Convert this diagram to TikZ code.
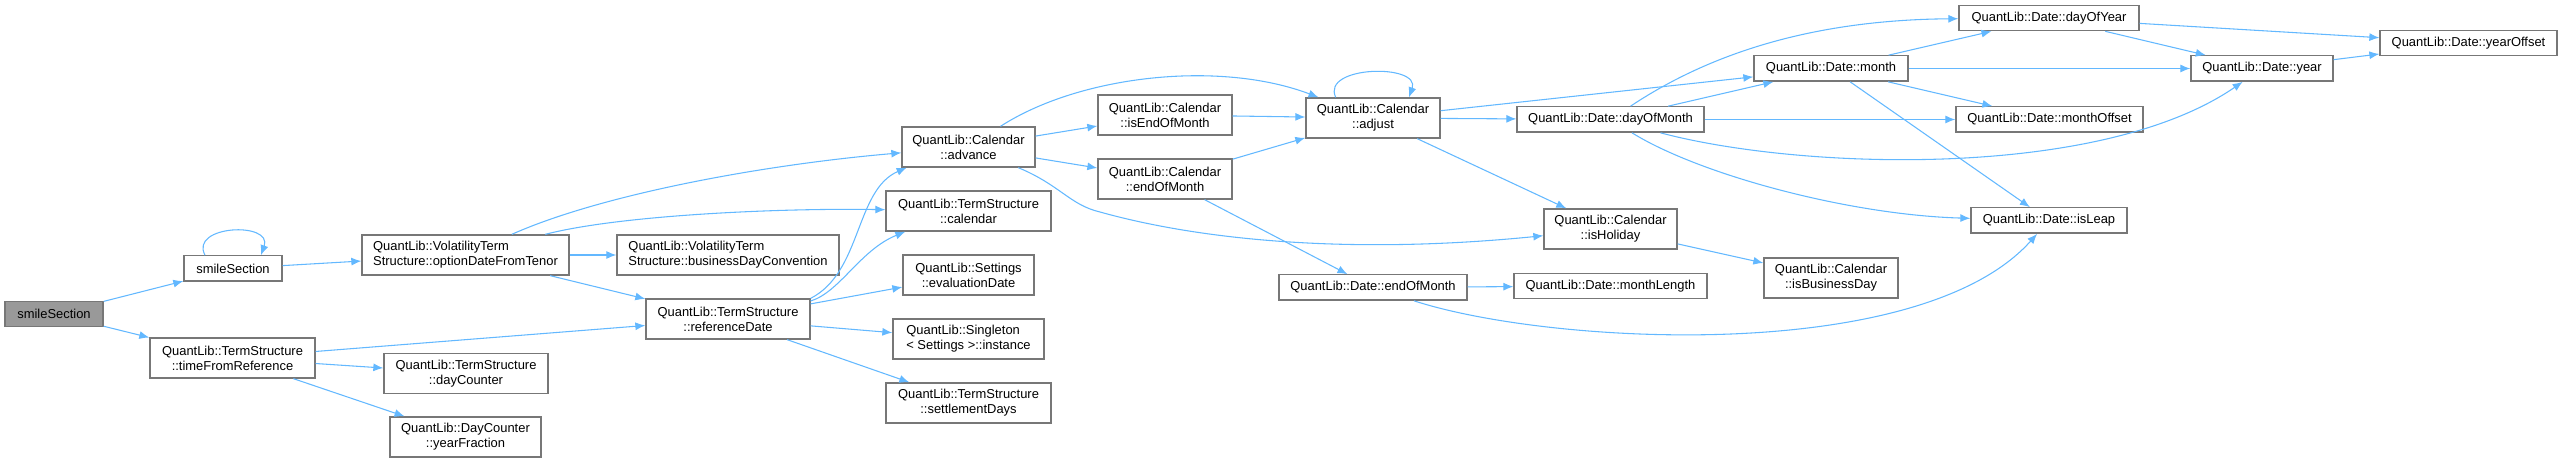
\documentclass[tikz,border=0pt]{standalone}
\usepackage{fontspec}
\setmainfont{Liberation Sans}
\usetikzlibrary{arrows.meta}

\definecolor{edgeblue}{HTML}{63B8FF}
\definecolor{nodeline}{HTML}{777777}
\definecolor{rootfill}{HTML}{999999}

\begin{document}
\begin{tikzpicture}[x=0.75pt, y=-0.75pt, font=\fontsize{9.7}{11.25}\selectfont,
  wd/.style={minimum width=#1*0.75pt}]
\tikzstyle{fn}=[draw=nodeline, fill=white, line width=1pt, inner sep=1pt, align=center, minimum height=19pt]
\tikzstyle{fntwo}=[fn, minimum height=30pt]
\tikzstyle{call}=[draw=edgeblue, line width=0.8pt, -{Latex[length=7.5pt,width=6pt]}]
\useasboundingbox (0,0) rectangle (2563,463);

% callers and first level
\node[fn, wd=98, fill=rootfill] (root) at (54,314) {smileSection};
\node[fn, wd=98] (smile) at (233,268.5) {smileSection};
\node[fntwo, wd=207, align=left] (opt) at (465.5,255) {QuantLib::VolatilityTerm\\Structure::optionDateFromTenor};
\node[fntwo, wd=165] (tfr) at (232.5,358) {QuantLib::TermStructure\\::timeFromReference};
\node[fntwo, wd=164] (dc) at (466,373.5) {QuantLib::TermStructure\\::dayCounter};
\node[fntwo, wd=151] (yf) at (465.5,437) {QuantLib::DayCounter\\::yearFraction};
\node[fntwo, wd=222, align=left] (bdc) at (728,255) {QuantLib::VolatilityTerm\\Structure::businessDayConvention};
\node[fntwo, wd=164] (ref) at (728,319) {QuantLib::TermStructure\\::referenceDate};

% term structure and calendar
\node[fntwo, wd=133] (adv) at (968.5,147) {QuantLib::Calendar\\::advance};
\node[fntwo, wd=165] (cal) at (968.5,211) {QuantLib::TermStructure\\::calendar};
\node[fntwo, wd=131] (evd) at (968.5,275) {QuantLib::Settings\\::evaluationDate};
\node[fntwo, wd=151, align=left] (inst) at (968.5,339) {QuantLib::Singleton\\< Settings >::instance};
\node[fntwo, wd=165] (sdays) at (968.5,403) {QuantLib::TermStructure\\::settlementDays};
\node[fntwo, wd=134] (ieom) at (1165,115) {QuantLib::Calendar\\::isEndOfMonth};
\node[fntwo, wd=134] (ceom) at (1165,179) {QuantLib::Calendar\\::endOfMonth};
\node[fntwo, wd=134] (adj) at (1373,118) {QuantLib::Calendar\\::adjust};
\node[fn, wd=188] (deom) at (1373,287.5) {QuantLib::Date::endOfMonth};

% date functions
\node[fn, wd=187] (dom) at (1610.5,119.5) {QuantLib::Date::dayOfMonth};
\node[fntwo, wd=133] (hol) at (1610.5,229) {QuantLib::Calendar\\::isHoliday};
\node[fn, wd=193] (mlen) at (1610.5,286) {QuantLib::Date::monthLength};
\node[fn, wd=154] (mon) at (1831,68.5) {QuantLib::Date::month};
\node[fntwo, wd=134] (bday) at (1831,278) {QuantLib::Calendar\\::isBusinessDay};
\node[fn, wd=180] (doy) at (2049,18) {QuantLib::Date::dayOfYear};
\node[fn, wd=187] (moff) at (2049.5,119.5) {QuantLib::Date::monthOffset};
\node[fn, wd=156] (leap) at (2049,220.5) {QuantLib::Date::isLeap};
\node[fn, wd=142] (yr) at (2262,68.5) {QuantLib::Date::year};
\node[fn, wd=177] (yoff) at (2468.5,43) {QuantLib::Date::yearOffset};

% calls
\draw[call] (root) -- (smile);
\draw[call] (root) -- (tfr);
\draw[call] ([xshift=-21pt]smile.north) .. controls +(-16,-30) and +(12,-34) .. ([xshift=21pt]smile.north);
\draw[call] (smile) -- (opt);
\draw[call] (opt) .. controls (600,195) and (760,165) .. (adv);
\draw[call] (opt) .. controls (620,215) and (780,208) .. (cal);
\draw[call] (opt) -- (bdc);
\draw[call] (opt) -- (ref);
\draw[call] (tfr) -- (ref);
\draw[call] (tfr) -- (dc);
\draw[call] (tfr) -- (yf);
\draw[call] (ref.north east) .. controls (862,272) and (855,190) .. ([xshift=4pt]adv.south west);
\draw[call] ([yshift=-2pt]ref.north east) .. controls (840,292) and (860,250) .. ([xshift=15pt]cal.south west);
\draw[call] (ref) -- (evd);
\draw[call] (ref) -- (inst);
\draw[call] (ref) -- (sdays);
\draw[call] (adv) -- (ieom);
\draw[call] (adv) -- (ceom);
\draw[call] (adv) .. controls (1080,75) and (1220,60) .. (adj);
\draw[call] (adv) .. controls (1060,185) and (1070,205) .. (1100,212) .. controls (1200,240) and (1350,255) .. (hol);
\draw[call] (ieom) -- (adj);
\draw[call] (ceom) -- (adj);
\draw[call] (ceom) -- (deom);
\draw[call] ([xshift=-28pt]adj.north) .. controls +(-15,-32) and +(12,-34) .. ([xshift=27pt]adj.north);
\draw[call] (adj) -- (mon);
\draw[call] (adj) -- (dom);
\draw[call] (adj) -- (hol);
\draw[call] (dom) .. controls (1700,60) and (1800,20) .. (doy);
\draw[call] (dom) -- (mon);
\draw[call] (dom) -- (moff);
\draw[call] (dom) .. controls (1800,170) and (2100,180) .. (yr);
\draw[call] (dom) .. controls (1700,175) and (1850,215) .. (leap);
\draw[call] (mon) -- (doy);
\draw[call] (mon) -- (yr);
\draw[call] (mon) -- (moff);
\draw[call] (mon) -- (leap);
\draw[call] (doy) -- (yoff);
\draw[call] (doy) -- (yr);
\draw[call] (yr) -- (yoff);
\draw[call] (hol) -- (bday);
\draw[call] (deom) -- (mlen);
\draw[call] (deom) .. controls (1550,345) and (1920,365) .. (leap);
\end{tikzpicture}
\end{document}
